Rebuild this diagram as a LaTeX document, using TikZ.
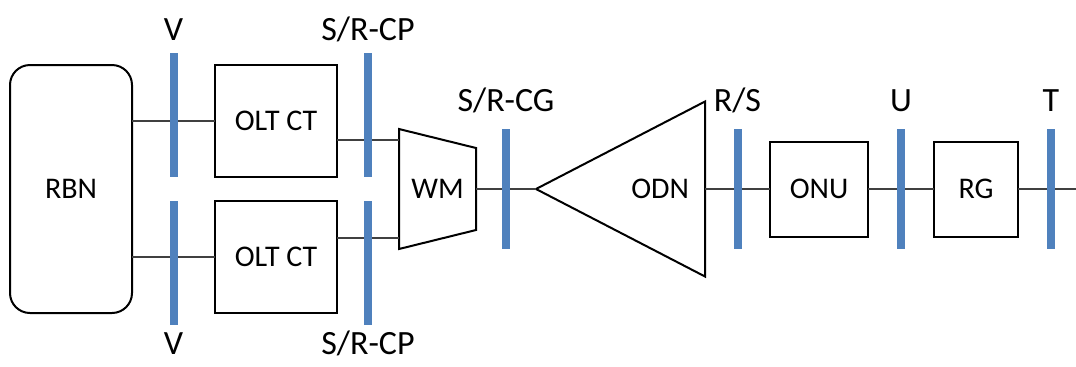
\documentclass[tikz,border=0pt]{standalone}
\usepackage{fontspec}
\setmainfont{Carlito}
\usepackage{xcolor}
\usepackage{tikz}
\usetikzlibrary{positioning,calc}
\definecolor{linegray}{RGB}{64,64,64}
\definecolor{barblue}{RGB}{79,129,189}
\newcommand{\boxfont}{\fontsize{15}{18}\selectfont}
\newcommand{\tagfont}{\fontsize{17}{20}\selectfont}

\begin{document}
\begin{tikzpicture}[
  block/.style={rectangle,draw=black,line width=1pt,font=\boxfont,inner sep=0pt,outer sep=0pt},
  ghost/.style={rectangle,inner sep=0pt,outer sep=0pt,font=\boxfont},
  outline/.style={draw=black,line width=1pt},
  refbar/.style={rectangle,fill=barblue,inner sep=0pt,outer sep=0pt,minimum width=4pt,minimum height=#1},
  refbar/.default=60pt,
  tagtext/.style={font=\tagfont,inner sep=0pt,text height=0.65em,text depth=0.25em},
  link/.style={draw=linegray,line width=0.6pt}
]
\useasboundingbox (0,0) rectangle (538pt,-183pt);
\node[block,rounded corners=10pt,minimum width=61pt,minimum height=124pt] (rbn) at (35.5pt,-94.5pt) {RBN};
\node[block,minimum width=61pt,minimum height=56pt,below right=0pt and 41.5pt of rbn.north east] (olt1) {OLT CT};
\node[block,minimum width=61pt,minimum height=56pt,above right=0pt and 41.5pt of rbn.south east] (olt2) {OLT CT};
\node[ghost,minimum width=38.5pt,minimum height=60pt,right=133.5pt of rbn] (wm) {WM};
\node[ghost,minimum width=84.5pt,minimum height=87.5pt,text width=68.5pt,align=right,right=30pt of wm] (odn) {ODN};
\node[block,minimum width=49pt,minimum height=47.5pt,right=32.5pt of odn] (onu) {ONU};
\node[block,minimum width=42pt,minimum height=47.5pt,right=33pt of onu] (rg) {RG};
\coordinate[right=29pt of rg] (tend);
\draw[outline] (wm.north west) -- ([yshift=-9.5pt]wm.north east) -- ([yshift=9.5pt]wm.south east) -- (wm.south west) -- cycle;
\draw[outline] (odn.west) -- (odn.north east) -- (odn.south east) -- cycle;
\draw[link] (rbn.east |- olt1) -- (olt1);
\draw[link] (rbn.east |- olt2) -- (olt2);
\draw[link] ([yshift=-9.5pt]olt1.east) coordinate (o1) -- (o1 -| wm.west);
\draw[link] ([yshift=9.5pt]olt2.east) coordinate (o2) -- (o2 -| wm.west);
\draw[link] (wm.east) -- (odn.west);
\draw[link] (odn.east) -- (onu);
\draw[link] (onu) -- (rg);
\draw[link] (rg) -- (tend);
\node[refbar=62pt,anchor=south,label={[tagtext,label distance=3.75pt]above:V}] (refv1) at ($(rbn.east |- olt1.south)!.5!(olt1.south west)$) {};
\node[refbar=62pt,anchor=north,label={[tagtext,label distance=8pt]below:V}] (refv2) at ($(rbn.east |- olt2.north)!.5!(olt2.north west)$) {};
\node[refbar=62pt,anchor=south,label={[tagtext,label distance=3.75pt]above:S/R-CP}] (refcp1) at ($(olt1.south east)!.5!(wm.west |- olt1.south)$) {};
\node[refbar=62pt,anchor=north,label={[tagtext,label distance=8pt]below:S/R-CP}] (refcp2) at ($(olt2.north east)!.5!(wm.west |- olt2.north)$) {};
\node[refbar,label={[tagtext,label distance=6.25pt]above:S/R-CG}] (refcg) at ($(wm.east)!.5!(odn.west)$) {};
\node[refbar,label={[tagtext,label distance=6.25pt]above:R/S}] (refrs) at ($(odn.east)!.5!(onu.west)$) {};
\node[refbar,label={[tagtext,label distance=6.25pt]above:U}] (refu) at ($(onu.east)!.5!(rg.west)$) {};
\node[refbar,label={[tagtext,label distance=6.25pt]above:T},right=14.5pt of rg] (reft) {};
\end{tikzpicture}
\end{document}
